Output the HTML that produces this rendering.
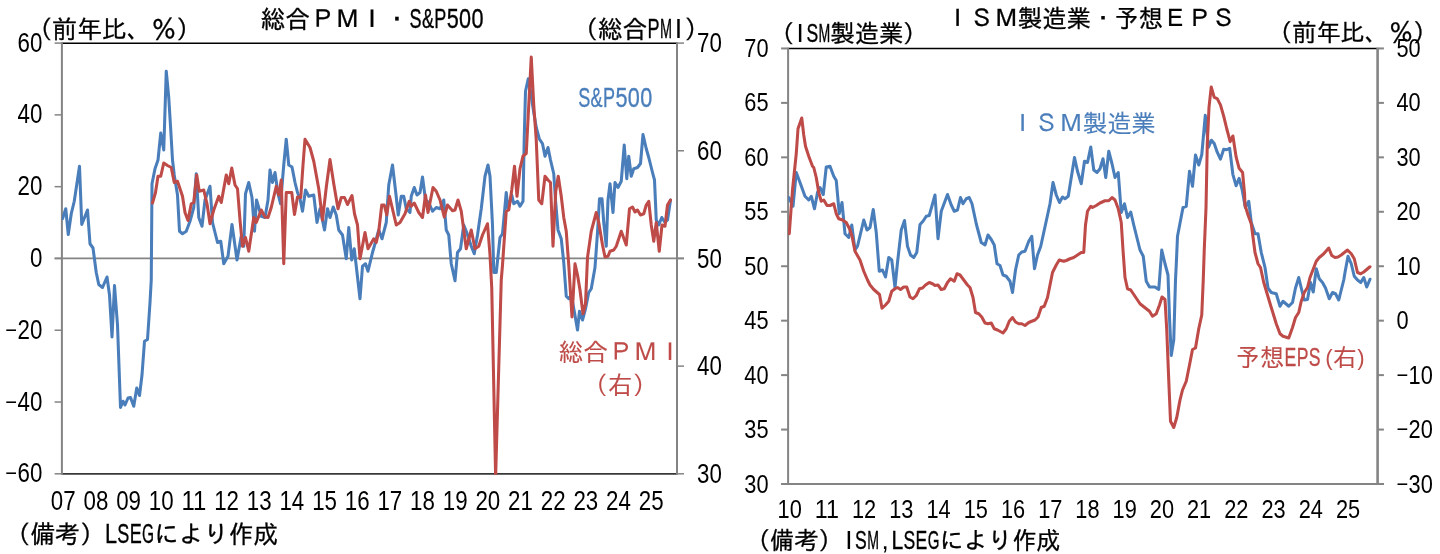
<!DOCTYPE html>
<html lang="ja"><head><meta charset="utf-8"><title>総合PMI・S&amp;P500 / ISM製造業・予想EPS</title>
<style>html,body{margin:0;padding:0;background:#fff}svg{display:block}text{font-family:"Liberation Sans","IPAGothic",sans-serif}</style></head><body>
<svg width="1440" height="554" viewBox="0 0 1440 554">
<rect width="1440" height="554" fill="#fff"/>
<defs><clipPath id="cl"><rect x="61.9" y="43.1" width="615.1" height="431.7"/></clipPath>
<clipPath id="cr"><rect x="788.1" y="48.45" width="589.4" height="435.55"/></clipPath></defs>
<line x1="61.90" y1="43.20" x2="677.00" y2="43.20" stroke="#000" stroke-width="1.6"/>
<line x1="61.90" y1="473.80" x2="677.00" y2="473.80" stroke="#383838" stroke-width="1.8"/>
<line x1="54.60" y1="258.40" x2="684.00" y2="258.40" stroke="#848484" stroke-width="1.9"/>
<line x1="61.90" y1="42.35" x2="61.90" y2="474.70" stroke="#848484" stroke-width="2.0"/>
<line x1="677.00" y1="42.35" x2="677.00" y2="474.70" stroke="#848484" stroke-width="2.0"/>
<line x1="54.60" y1="43.10" x2="61.90" y2="43.10" stroke="#848484" stroke-width="1.5"/>
<line x1="54.60" y1="114.88" x2="61.90" y2="114.88" stroke="#848484" stroke-width="1.5"/>
<line x1="54.60" y1="186.67" x2="61.90" y2="186.67" stroke="#848484" stroke-width="1.5"/>
<line x1="54.60" y1="258.45" x2="61.90" y2="258.45" stroke="#848484" stroke-width="1.5"/>
<line x1="54.60" y1="330.23" x2="61.90" y2="330.23" stroke="#848484" stroke-width="1.5"/>
<line x1="54.60" y1="402.02" x2="61.90" y2="402.02" stroke="#848484" stroke-width="1.5"/>
<line x1="54.60" y1="473.80" x2="61.90" y2="473.80" stroke="#848484" stroke-width="1.5"/>
<line x1="677.00" y1="43.10" x2="684.00" y2="43.10" stroke="#848484" stroke-width="1.5"/>
<line x1="677.00" y1="150.78" x2="684.00" y2="150.78" stroke="#848484" stroke-width="1.5"/>
<line x1="677.00" y1="258.45" x2="684.00" y2="258.45" stroke="#848484" stroke-width="1.5"/>
<line x1="677.00" y1="366.12" x2="684.00" y2="366.12" stroke="#848484" stroke-width="1.5"/>
<line x1="677.00" y1="473.80" x2="684.00" y2="473.80" stroke="#848484" stroke-width="1.5"/>
<line x1="788.10" y1="48.50" x2="1377.50" y2="48.50" stroke="#000" stroke-width="1.5"/>
<line x1="781.10" y1="484.00" x2="1383.90" y2="484.00" stroke="#848484" stroke-width="2.0"/>
<line x1="788.10" y1="47.70" x2="788.10" y2="485.00" stroke="#848484" stroke-width="2.0"/>
<line x1="1377.60" y1="47.70" x2="1377.60" y2="485.00" stroke="#848484" stroke-width="2.6"/>
<line x1="781.10" y1="48.45" x2="788.10" y2="48.45" stroke="#848484" stroke-width="2.0"/>
<line x1="1377.50" y1="48.45" x2="1383.90" y2="48.45" stroke="#848484" stroke-width="2.0"/>
<line x1="781.10" y1="102.89" x2="788.10" y2="102.89" stroke="#848484" stroke-width="2.0"/>
<line x1="1377.50" y1="102.89" x2="1383.90" y2="102.89" stroke="#848484" stroke-width="2.0"/>
<line x1="781.10" y1="157.34" x2="788.10" y2="157.34" stroke="#848484" stroke-width="2.0"/>
<line x1="1377.50" y1="157.34" x2="1383.90" y2="157.34" stroke="#848484" stroke-width="2.0"/>
<line x1="781.10" y1="211.78" x2="788.10" y2="211.78" stroke="#848484" stroke-width="2.0"/>
<line x1="1377.50" y1="211.78" x2="1383.90" y2="211.78" stroke="#848484" stroke-width="2.0"/>
<line x1="781.10" y1="266.23" x2="788.10" y2="266.23" stroke="#848484" stroke-width="2.0"/>
<line x1="1377.50" y1="266.23" x2="1383.90" y2="266.23" stroke="#848484" stroke-width="2.0"/>
<line x1="781.10" y1="320.67" x2="788.10" y2="320.67" stroke="#848484" stroke-width="2.0"/>
<line x1="1377.50" y1="320.67" x2="1383.90" y2="320.67" stroke="#848484" stroke-width="2.0"/>
<line x1="781.10" y1="375.11" x2="788.10" y2="375.11" stroke="#848484" stroke-width="2.0"/>
<line x1="1377.50" y1="375.11" x2="1383.90" y2="375.11" stroke="#848484" stroke-width="2.0"/>
<line x1="781.10" y1="429.56" x2="788.10" y2="429.56" stroke="#848484" stroke-width="2.0"/>
<line x1="1377.50" y1="429.56" x2="1383.90" y2="429.56" stroke="#848484" stroke-width="2.0"/>
<line x1="781.10" y1="484.00" x2="788.10" y2="484.00" stroke="#848484" stroke-width="2.0"/>
<line x1="1377.50" y1="484.00" x2="1383.90" y2="484.00" stroke="#848484" stroke-width="2.0"/>
<polyline points="62.50,218.75 65.75,208.75 68.25,234.50 71.25,213.75 74.25,201.25 79.50,166.25 81.75,224.50 87.50,210.00 90.00,243.75 93.00,248.00 96.25,272.50 98.75,284.50 102.50,287.50 107.00,277.00 109.50,295.00 112.00,337.00 114.50,285.50 117.50,325.00 120.50,407.50 123.00,401.25 125.00,405.00 128.00,398.00 130.50,397.50 133.75,406.25 136.75,388.00 139.50,395.50 142.00,375.00 144.50,341.25 147.50,339.50 150.00,302.50 151.25,280.00 152.00,183.75 155.00,168.75 158.00,160.00 160.75,133.00 163.75,150.00 166.25,71.25 168.75,97.50 170.75,130.00 172.50,160.00 174.25,175.00 177.50,195.00 179.50,231.25 182.50,233.75 186.25,231.25 190.00,221.25 193.75,207.50 196.25,173.75 198.75,217.50 202.00,226.25 205.00,200.00 210.00,186.25 212.50,222.50 217.50,242.50 220.75,241.25 223.75,263.75 228.00,256.25 232.00,224.50 237.00,260.00 241.25,236.25 243.75,246.25 245.50,193.75 248.75,182.50 252.00,197.50 254.50,231.25 256.50,200.00 261.25,216.25 265.00,217.50 268.00,200.00 270.00,170.00 272.50,182.50 275.00,172.50 278.00,193.75 280.50,203.75 283.75,165.00 286.25,139.25 288.75,165.00 292.00,167.00 295.00,182.50 297.50,192.50 300.00,198.75 302.50,211.25 305.50,190.00 308.75,196.25 313.75,195.00 317.00,222.50 320.00,208.75 324.50,230.00 327.50,208.75 330.00,217.50 333.25,207.00 336.25,215.00 338.75,230.00 342.50,235.00 346.25,258.75 348.75,227.50 351.75,260.00 354.25,248.75 360.00,298.75 362.50,266.25 365.50,263.75 368.00,271.25 372.50,252.50 375.00,243.75 378.75,230.00 382.00,238.75 386.25,222.50 388.75,185.00 392.50,165.00 395.75,192.50 398.25,215.00 401.25,196.25 403.75,196.25 406.25,208.75 410.00,212.50 411.25,196.25 414.25,187.50 417.00,195.00 420.00,192.50 422.50,177.00 425.50,200.00 428.75,202.50 432.50,211.25 436.25,207.50 440.00,208.75 443.75,200.00 446.25,230.00 448.75,235.00 451.25,263.75 455.00,280.75 457.50,252.50 460.50,248.75 463.75,225.00 466.75,232.50 471.25,246.25 474.25,253.75 477.50,235.00 481.25,208.75 485.00,176.25 488.00,165.00 490.00,176.25 492.50,225.00 493.75,272.50 496.25,272.50 500.00,237.50 502.50,233.75 506.25,192.50 508.00,208.75 511.75,195.00 513.75,203.75 517.50,201.25 520.00,206.25 523.00,201.25 524.25,137.50 525.50,91.25 528.25,78.75 530.75,92.50 533.75,112.50 536.25,127.50 539.25,138.75 542.50,143.75 545.00,156.25 548.00,147.50 550.50,160.00 553.75,173.75 555.50,200.00 558.00,230.00 561.25,238.75 563.75,262.50 566.25,296.25 568.75,298.75 571.25,295.00 574.50,312.50 577.50,330.00 579.50,311.25 582.50,320.00 585.50,308.75 588.75,292.50 591.25,288.75 595.00,267.50 597.50,232.50 599.50,198.75 602.00,198.75 603.75,222.50 606.25,246.25 608.00,200.00 610.00,183.75 613.00,212.50 615.00,182.50 618.00,187.50 621.25,181.25 624.25,145.00 626.75,178.75 628.75,156.25 631.25,176.25 633.75,168.75 637.50,167.50 640.50,163.50 643.00,134.50 646.25,148.75 648.75,157.50 652.50,172.50 654.50,180.00 656.25,220.00 658.75,225.00 661.75,217.50 665.00,222.50 667.50,220.00 670.50,200.00" fill="none" stroke="#4a7ebb" stroke-width="3.05" stroke-linejoin="round" stroke-linecap="round" clip-path="url(#cl)"/>
<polyline points="152.50,203.00 155.50,192.50 158.00,176.25 160.75,176.25 163.75,163.00 167.50,165.50 171.25,167.50 174.25,182.50 177.50,181.25 182.50,196.25 185.00,212.50 188.00,220.50 191.25,203.75 193.75,202.50 196.75,175.00 199.25,191.25 203.75,190.00 207.00,203.75 210.00,223.75 213.75,210.00 218.75,196.25 221.25,202.50 226.25,175.00 228.75,183.75 231.75,168.00 235.00,185.00 237.50,188.75 240.00,220.00 242.50,246.25 245.50,237.50 248.75,251.25 253.75,217.50 256.25,222.50 261.25,210.00 265.00,217.00 268.00,217.50 271.25,207.50 276.25,186.25 278.75,195.00 281.25,180.00 283.75,263.75 286.25,192.50 291.75,192.50 294.50,214.50 297.50,197.00 300.75,197.50 303.00,165.00 305.00,139.25 310.00,147.50 313.75,161.25 318.75,188.75 322.50,220.00 326.25,187.50 330.00,159.50 333.75,183.75 338.00,208.75 341.25,197.50 344.50,197.50 347.50,204.50 352.00,195.50 354.50,213.75 357.50,225.00 360.00,258.75 365.00,232.50 368.00,248.75 373.75,238.75 376.25,242.50 378.75,231.25 381.75,205.00 384.25,205.00 386.75,215.00 389.50,196.25 396.25,225.00 400.00,222.50 405.00,213.75 409.25,201.25 411.25,206.25 414.25,203.00 418.75,212.50 422.50,217.50 425.50,195.00 428.00,212.50 433.00,187.50 436.25,191.25 440.00,200.00 444.25,217.00 447.50,205.00 452.50,210.75 455.00,210.00 458.00,200.00 461.25,211.25 466.25,248.75 471.25,230.00 475.00,248.75 478.75,246.25 482.50,235.00 487.50,223.75 490.00,255.00 491.75,288.00 495.62,477.00 501.25,280.00 502.50,265.00 506.25,211.25 508.75,210.00 511.75,190.00 514.50,166.25 517.00,196.25 520.00,168.75 523.00,156.00 526.25,153.50 531.25,57.00 533.75,105.00 536.25,140.00 538.75,200.00 541.75,203.75 545.00,176.25 548.00,180.00 550.50,182.50 553.00,246.25 555.75,191.25 558.25,176.25 561.25,196.25 563.75,217.50 566.25,231.25 568.75,265.00 572.00,317.00 575.00,263.75 577.50,275.00 580.00,290.00 583.00,313.75 585.50,303.75 587.50,257.50 591.25,231.25 596.25,212.50 598.75,222.50 602.50,245.00 605.00,257.00 608.00,256.25 610.00,251.25 613.75,250.00 616.25,246.25 621.25,231.25 626.25,245.00 629.50,208.75 632.50,207.00 635.00,212.00 637.50,210.00 640.50,215.00 643.75,213.75 646.25,205.00 648.75,201.25 651.25,225.00 653.75,241.25 656.25,222.50 659.25,251.25 662.00,225.00 665.00,226.25 667.50,205.00 670.50,200.00" fill="none" stroke="#be4b48" stroke-width="3.05" stroke-linejoin="round" stroke-linecap="round" clip-path="url(#cl)"/>
<polyline points="788.75,197.50 793.00,206.25 796.25,172.50 800.00,182.50 805.00,196.25 808.75,200.00 811.25,196.25 814.50,208.75 817.50,192.50 820.00,187.50 823.25,194.50 826.25,167.00 830.00,166.25 833.75,176.25 836.25,180.50 839.25,213.75 842.00,202.50 845.00,233.75 848.75,237.50 851.75,225.00 855.00,250.00 857.50,246.25 863.75,220.00 867.00,230.00 870.00,227.50 873.25,209.50 876.25,232.50 879.25,271.25 882.50,270.00 885.50,277.00 888.75,257.50 891.75,260.00 895.00,287.50 897.50,262.50 901.25,230.00 904.50,220.50 907.50,246.25 910.50,255.00 913.75,257.50 916.75,252.50 920.00,224.50 923.00,221.25 926.25,216.25 929.25,215.50 935.00,195.00 938.00,238.75 941.25,211.25 947.50,194.50 951.25,205.00 954.25,211.25 957.50,210.00 960.50,197.50 963.00,203.75 966.25,198.75 969.25,197.50 972.00,203.75 976.25,223.75 981.25,242.50 985.00,245.00 988.00,235.00 991.25,239.50 994.25,245.00 997.00,263.75 1000.00,265.50 1003.00,275.00 1006.25,276.25 1010.00,281.25 1012.50,292.50 1015.50,270.00 1018.75,255.00 1021.75,252.00 1025.00,251.25 1028.75,241.25 1031.75,236.25 1034.50,268.75 1037.50,255.00 1040.75,246.25 1043.75,232.50 1050.00,203.75 1053.00,182.50 1056.25,195.00 1059.50,202.50 1062.50,197.00 1065.00,198.75 1068.25,196.25 1074.50,157.50 1077.50,171.25 1081.25,183.75 1084.50,161.25 1087.50,162.50 1090.75,147.00 1093.75,170.00 1097.00,172.50 1100.00,168.75 1103.00,158.75 1105.75,177.50 1108.75,151.25 1112.00,163.75 1115.00,177.50 1118.25,172.50 1121.25,212.50 1124.50,203.75 1127.50,217.50 1130.75,212.00 1133.75,225.00 1140.00,250.00 1143.25,256.25 1146.25,281.25 1149.50,287.00 1155.00,287.00 1158.75,289.50 1161.75,250.00 1165.00,263.75 1168.00,275.00 1169.50,317.50 1171.25,355.50 1173.75,340.00 1175.50,280.00 1176.25,265.00 1177.50,236.25 1183.00,207.50 1186.25,206.25 1189.50,171.25 1192.50,186.25 1195.50,155.00 1198.75,165.00 1201.78,154.65 1205.27,115.31 1208.51,147.18 1211.49,140.21 1214.23,143.44 1217.22,152.16 1220.46,159.13 1223.69,149.17 1226.68,149.67 1229.67,148.42 1232.90,174.56 1236.14,185.77 1239.13,178.30 1242.12,189.50 1245.35,207.43 1248.75,201.25 1251.25,222.50 1255.00,233.75 1258.00,233.75 1261.25,252.50 1265.00,267.50 1268.00,288.00 1271.25,292.50 1276.25,293.75 1280.00,306.25 1283.00,301.25 1288.75,306.25 1292.50,302.50 1295.50,288.00 1298.75,277.50 1301.25,288.00 1304.25,300.00 1307.50,299.50 1310.50,282.50 1313.25,292.00 1316.25,268.75 1319.25,278.75 1322.50,282.50 1325.50,288.00 1329.25,298.75 1332.50,292.50 1335.50,293.75 1338.75,300.00 1341.25,290.00 1343.75,280.00 1345.00,272.50 1348.00,256.25 1351.25,263.75 1354.25,276.25 1357.50,280.00 1360.75,282.50 1363.75,277.50 1366.75,287.00 1370.00,279.25" fill="none" stroke="#4a7ebb" stroke-width="3.05" stroke-linejoin="round" stroke-linecap="round" clip-path="url(#cr)"/>
<polyline points="789.25,233.75 792.50,190.00 796.25,153.75 798.00,128.75 801.75,118.00 803.75,135.00 805.50,146.25 808.75,156.25 812.50,166.25 813.75,167.50 816.25,177.50 818.75,192.50 821.25,201.25 823.75,200.00 827.00,205.50 830.00,205.50 833.75,203.75 836.25,213.75 838.75,218.75 842.50,220.00 846.25,222.50 849.50,228.75 852.00,236.25 855.00,251.25 860.00,260.00 863.75,271.25 867.50,280.00 870.00,285.00 873.75,289.50 879.50,294.50 882.00,308.25 885.50,305.00 888.75,301.25 891.75,291.25 895.00,288.75 897.50,287.50 900.50,289.50 903.75,287.00 906.75,287.00 910.00,297.00 913.00,298.75 916.25,295.50 919.50,288.75 922.50,288.00 925.50,285.00 929.25,282.50 932.50,283.75 935.00,285.50 938.00,285.00 941.25,289.50 944.25,288.75 947.50,282.50 950.50,278.75 954.25,281.25 957.00,273.75 960.00,275.00 963.75,280.00 967.50,285.00 970.00,287.50 973.00,297.50 975.50,312.50 978.75,313.75 981.75,317.00 985.00,323.00 988.00,323.75 991.25,323.00 994.25,328.75 997.50,330.00 1003.00,333.00 1006.25,328.75 1009.25,321.25 1012.50,317.50 1015.50,322.00 1018.75,323.75 1021.75,323.75 1025.00,325.50 1028.75,322.50 1031.75,321.25 1035.00,320.00 1038.00,317.00 1041.25,307.50 1044.25,306.25 1047.50,297.50 1050.00,285.00 1052.50,272.50 1056.25,265.00 1059.25,260.00 1063.75,261.25 1066.25,260.50 1070.00,258.75 1073.75,257.50 1077.50,255.00 1081.25,252.50 1083.75,252.50 1085.50,225.00 1087.50,211.25 1090.75,206.25 1092.50,207.50 1096.25,205.50 1100.00,203.00 1105.00,200.75 1108.75,200.75 1112.00,197.50 1115.00,200.00 1118.25,208.75 1121.25,222.50 1123.00,250.00 1125.00,277.50 1127.50,288.75 1130.75,290.00 1140.00,303.75 1146.25,308.75 1149.50,311.25 1152.50,316.25 1156.25,313.75 1159.50,305.00 1162.00,297.00 1165.00,299.50 1166.75,330.00 1168.75,380.00 1170.50,421.25 1173.75,427.50 1176.75,417.50 1180.00,400.00 1182.50,390.00 1186.25,381.25 1189.50,365.00 1192.50,349.50 1195.50,348.00 1198.75,328.75 1201.75,315.00 1203.25,280.00 1204.25,250.00 1206.02,207.43 1207.26,144.69 1209.00,107.34 1211.24,86.93 1214.23,97.39 1217.22,98.63 1220.46,104.85 1223.69,116.06 1226.68,128.51 1230.17,141.70 1232.90,135.98 1236.14,157.14 1239.13,168.34 1242.61,172.57 1244.61,194.48 1245.00,205.00 1248.00,215.00 1251.25,223.75 1255.00,252.50 1258.00,263.75 1260.50,267.50 1263.75,282.50 1267.50,295.00 1271.25,307.50 1276.25,323.75 1280.00,333.75 1283.00,336.25 1288.75,338.00 1292.50,327.50 1295.50,317.50 1298.75,312.50 1301.25,301.25 1304.25,292.50 1307.50,287.50 1310.00,277.50 1316.25,261.25 1319.25,257.50 1323.75,253.75 1328.75,248.00 1331.75,255.50 1335.00,257.50 1338.00,257.00 1341.25,255.00 1347.50,250.00 1351.25,253.75 1354.25,258.75 1357.50,272.50 1360.75,273.75 1363.75,272.00 1370.00,266.75" fill="none" stroke="#be4b48" stroke-width="3.05" stroke-linejoin="round" stroke-linecap="round" clip-path="url(#cr)"/>
<text font-size="24.8" fill="#000"><tspan x="17.50" y="51.70" font-size="26.78" textLength="24.80" lengthAdjust="spacingAndGlyphs">60</tspan></text>
<text font-size="24.8" fill="#000"><tspan x="17.50" y="123.48" font-size="26.78" textLength="24.80" lengthAdjust="spacingAndGlyphs">40</tspan></text>
<text font-size="24.8" fill="#000"><tspan x="17.50" y="195.27" font-size="26.78" textLength="24.80" lengthAdjust="spacingAndGlyphs">20</tspan></text>
<text font-size="24.8" fill="#000"><tspan x="29.90" y="267.05" font-size="26.78" textLength="12.40" lengthAdjust="spacingAndGlyphs">0</tspan></text>
<text font-size="24.8" fill="#000"><tspan x="4.40" y="335.83" font-size="20" textLength="13.3" lengthAdjust="spacingAndGlyphs">-</tspan><tspan x="17.50" y="338.83" font-size="26.78" textLength="24.80" lengthAdjust="spacingAndGlyphs">20</tspan></text>
<text font-size="24.8" fill="#000"><tspan x="4.40" y="407.62" font-size="20" textLength="13.3" lengthAdjust="spacingAndGlyphs">-</tspan><tspan x="17.50" y="410.62" font-size="26.78" textLength="24.80" lengthAdjust="spacingAndGlyphs">40</tspan></text>
<text font-size="24.8" fill="#000"><tspan x="4.40" y="479.40" font-size="20" textLength="13.3" lengthAdjust="spacingAndGlyphs">-</tspan><tspan x="17.50" y="482.40" font-size="26.78" textLength="24.80" lengthAdjust="spacingAndGlyphs">60</tspan></text>
<text font-size="24.8" fill="#000"><tspan x="697.10" y="52.30" font-size="26.78" textLength="24.80" lengthAdjust="spacingAndGlyphs">70</tspan></text>
<text font-size="24.8" fill="#000"><tspan x="697.10" y="159.97" font-size="26.78" textLength="24.80" lengthAdjust="spacingAndGlyphs">60</tspan></text>
<text font-size="24.8" fill="#000"><tspan x="697.10" y="267.65" font-size="26.78" textLength="24.80" lengthAdjust="spacingAndGlyphs">50</tspan></text>
<text font-size="24.8" fill="#000"><tspan x="697.10" y="375.32" font-size="26.78" textLength="24.80" lengthAdjust="spacingAndGlyphs">40</tspan></text>
<text font-size="24.8" fill="#000"><tspan x="697.10" y="483.00" font-size="26.78" textLength="24.80" lengthAdjust="spacingAndGlyphs">30</tspan></text>
<text font-size="24.8" fill="#000"><tspan x="50.86" y="509.60" font-size="26.78" textLength="24.80" lengthAdjust="spacingAndGlyphs">07</tspan></text>
<text font-size="24.8" fill="#000"><tspan x="83.52" y="509.60" font-size="26.78" textLength="24.80" lengthAdjust="spacingAndGlyphs">08</tspan></text>
<text font-size="24.8" fill="#000"><tspan x="116.18" y="509.60" font-size="26.78" textLength="24.80" lengthAdjust="spacingAndGlyphs">09</tspan></text>
<text font-size="24.8" fill="#000"><tspan x="148.84" y="509.60" font-size="26.78" textLength="24.80" lengthAdjust="spacingAndGlyphs">10</tspan></text>
<text font-size="24.8" fill="#000"><tspan x="181.50" y="509.60" font-size="26.78" textLength="24.80" lengthAdjust="spacingAndGlyphs">11</tspan></text>
<text font-size="24.8" fill="#000"><tspan x="214.16" y="509.60" font-size="26.78" textLength="24.80" lengthAdjust="spacingAndGlyphs">12</tspan></text>
<text font-size="24.8" fill="#000"><tspan x="246.82" y="509.60" font-size="26.78" textLength="24.80" lengthAdjust="spacingAndGlyphs">13</tspan></text>
<text font-size="24.8" fill="#000"><tspan x="279.48" y="509.60" font-size="26.78" textLength="24.80" lengthAdjust="spacingAndGlyphs">14</tspan></text>
<text font-size="24.8" fill="#000"><tspan x="312.14" y="509.60" font-size="26.78" textLength="24.80" lengthAdjust="spacingAndGlyphs">15</tspan></text>
<text font-size="24.8" fill="#000"><tspan x="344.80" y="509.60" font-size="26.78" textLength="24.80" lengthAdjust="spacingAndGlyphs">16</tspan></text>
<text font-size="24.8" fill="#000"><tspan x="377.46" y="509.60" font-size="26.78" textLength="24.80" lengthAdjust="spacingAndGlyphs">17</tspan></text>
<text font-size="24.8" fill="#000"><tspan x="410.12" y="509.60" font-size="26.78" textLength="24.80" lengthAdjust="spacingAndGlyphs">18</tspan></text>
<text font-size="24.8" fill="#000"><tspan x="442.78" y="509.60" font-size="26.78" textLength="24.80" lengthAdjust="spacingAndGlyphs">19</tspan></text>
<text font-size="24.8" fill="#000"><tspan x="475.44" y="509.60" font-size="26.78" textLength="24.80" lengthAdjust="spacingAndGlyphs">20</tspan></text>
<text font-size="24.8" fill="#000"><tspan x="508.10" y="509.60" font-size="26.78" textLength="24.80" lengthAdjust="spacingAndGlyphs">21</tspan></text>
<text font-size="24.8" fill="#000"><tspan x="540.76" y="509.60" font-size="26.78" textLength="24.80" lengthAdjust="spacingAndGlyphs">22</tspan></text>
<text font-size="24.8" fill="#000"><tspan x="573.42" y="509.60" font-size="26.78" textLength="24.80" lengthAdjust="spacingAndGlyphs">23</tspan></text>
<text font-size="24.8" fill="#000"><tspan x="606.08" y="509.60" font-size="26.78" textLength="24.80" lengthAdjust="spacingAndGlyphs">24</tspan></text>
<text font-size="24.8" fill="#000"><tspan x="638.74" y="509.60" font-size="26.78" textLength="24.80" lengthAdjust="spacingAndGlyphs">25</tspan></text>
<text font-size="24.2" fill="#000"><tspan x="744.30" y="57.05" font-size="26.14" textLength="24.20" lengthAdjust="spacingAndGlyphs">70</tspan></text>
<text font-size="24.2" fill="#000"><tspan x="744.30" y="111.49" font-size="26.14" textLength="24.20" lengthAdjust="spacingAndGlyphs">65</tspan></text>
<text font-size="24.2" fill="#000"><tspan x="744.30" y="165.94" font-size="26.14" textLength="24.20" lengthAdjust="spacingAndGlyphs">60</tspan></text>
<text font-size="24.2" fill="#000"><tspan x="744.30" y="220.38" font-size="26.14" textLength="24.20" lengthAdjust="spacingAndGlyphs">55</tspan></text>
<text font-size="24.2" fill="#000"><tspan x="744.30" y="274.83" font-size="26.14" textLength="24.20" lengthAdjust="spacingAndGlyphs">50</tspan></text>
<text font-size="24.2" fill="#000"><tspan x="744.30" y="329.27" font-size="26.14" textLength="24.20" lengthAdjust="spacingAndGlyphs">45</tspan></text>
<text font-size="24.2" fill="#000"><tspan x="744.30" y="383.71" font-size="26.14" textLength="24.20" lengthAdjust="spacingAndGlyphs">40</tspan></text>
<text font-size="24.2" fill="#000"><tspan x="744.30" y="438.16" font-size="26.14" textLength="24.20" lengthAdjust="spacingAndGlyphs">35</tspan></text>
<text font-size="24.2" fill="#000"><tspan x="744.30" y="492.60" font-size="26.14" textLength="24.20" lengthAdjust="spacingAndGlyphs">30</tspan></text>
<text font-size="24.2" fill="#000"><tspan x="1396.50" y="57.05" font-size="26.14" textLength="24.20" lengthAdjust="spacingAndGlyphs">50</tspan></text>
<text font-size="24.2" fill="#000"><tspan x="1396.50" y="111.49" font-size="26.14" textLength="24.20" lengthAdjust="spacingAndGlyphs">40</tspan></text>
<text font-size="24.2" fill="#000"><tspan x="1396.50" y="165.94" font-size="26.14" textLength="24.20" lengthAdjust="spacingAndGlyphs">30</tspan></text>
<text font-size="24.2" fill="#000"><tspan x="1396.50" y="220.38" font-size="26.14" textLength="24.20" lengthAdjust="spacingAndGlyphs">20</tspan></text>
<text font-size="24.2" fill="#000"><tspan x="1396.50" y="274.83" font-size="26.14" textLength="24.20" lengthAdjust="spacingAndGlyphs">10</tspan></text>
<text font-size="24.2" fill="#000"><tspan x="1396.50" y="329.27" font-size="26.14" textLength="12.10" lengthAdjust="spacingAndGlyphs">0</tspan></text>
<text font-size="24.2" fill="#000"><tspan x="1395.80" y="380.71" font-size="20" textLength="13.3" lengthAdjust="spacingAndGlyphs">-</tspan><tspan x="1408.60" y="383.71" font-size="26.14" textLength="24.20" lengthAdjust="spacingAndGlyphs">10</tspan></text>
<text font-size="24.2" fill="#000"><tspan x="1395.80" y="435.16" font-size="20" textLength="13.3" lengthAdjust="spacingAndGlyphs">-</tspan><tspan x="1408.60" y="438.16" font-size="26.14" textLength="24.20" lengthAdjust="spacingAndGlyphs">20</tspan></text>
<text font-size="24.2" fill="#000"><tspan x="1395.80" y="489.60" font-size="20" textLength="13.3" lengthAdjust="spacingAndGlyphs">-</tspan><tspan x="1408.60" y="492.60" font-size="26.14" textLength="24.20" lengthAdjust="spacingAndGlyphs">30</tspan></text>
<text font-size="24.2" fill="#000"><tspan x="777.55" y="518.30" font-size="26.14" textLength="24.20" lengthAdjust="spacingAndGlyphs">10</tspan></text>
<text font-size="24.2" fill="#000"><tspan x="814.78" y="518.30" font-size="26.14" textLength="24.20" lengthAdjust="spacingAndGlyphs">11</tspan></text>
<text font-size="24.2" fill="#000"><tspan x="852.00" y="518.30" font-size="26.14" textLength="24.20" lengthAdjust="spacingAndGlyphs">12</tspan></text>
<text font-size="24.2" fill="#000"><tspan x="889.23" y="518.30" font-size="26.14" textLength="24.20" lengthAdjust="spacingAndGlyphs">13</tspan></text>
<text font-size="24.2" fill="#000"><tspan x="926.45" y="518.30" font-size="26.14" textLength="24.20" lengthAdjust="spacingAndGlyphs">14</tspan></text>
<text font-size="24.2" fill="#000"><tspan x="963.68" y="518.30" font-size="26.14" textLength="24.20" lengthAdjust="spacingAndGlyphs">15</tspan></text>
<text font-size="24.2" fill="#000"><tspan x="1000.90" y="518.30" font-size="26.14" textLength="24.20" lengthAdjust="spacingAndGlyphs">16</tspan></text>
<text font-size="24.2" fill="#000"><tspan x="1038.13" y="518.30" font-size="26.14" textLength="24.20" lengthAdjust="spacingAndGlyphs">17</tspan></text>
<text font-size="24.2" fill="#000"><tspan x="1075.35" y="518.30" font-size="26.14" textLength="24.20" lengthAdjust="spacingAndGlyphs">18</tspan></text>
<text font-size="24.2" fill="#000"><tspan x="1112.58" y="518.30" font-size="26.14" textLength="24.20" lengthAdjust="spacingAndGlyphs">19</tspan></text>
<text font-size="24.2" fill="#000"><tspan x="1149.80" y="518.30" font-size="26.14" textLength="24.20" lengthAdjust="spacingAndGlyphs">20</tspan></text>
<text font-size="24.2" fill="#000"><tspan x="1187.03" y="518.30" font-size="26.14" textLength="24.20" lengthAdjust="spacingAndGlyphs">21</tspan></text>
<text font-size="24.2" fill="#000"><tspan x="1224.25" y="518.30" font-size="26.14" textLength="24.20" lengthAdjust="spacingAndGlyphs">22</tspan></text>
<text font-size="24.2" fill="#000"><tspan x="1261.48" y="518.30" font-size="26.14" textLength="24.20" lengthAdjust="spacingAndGlyphs">23</tspan></text>
<text font-size="24.2" fill="#000"><tspan x="1298.70" y="518.30" font-size="26.14" textLength="24.20" lengthAdjust="spacingAndGlyphs">24</tspan></text>
<text font-size="24.2" fill="#000"><tspan x="1335.93" y="518.30" font-size="26.14" textLength="24.20" lengthAdjust="spacingAndGlyphs">25</tspan></text>
<text font-size="24.8" fill="#000"><tspan x="260.50" y="28" stroke="#000" stroke-width="0.3">総合ＰＭＩ・</tspan><tspan x="409.49" y="28" font-size="26.78" textLength="12.03" lengthAdjust="spacingAndGlyphs" stroke="#000" stroke-width="0.35">S</tspan><tspan x="421.89" y="28" font-size="26.78" textLength="12.03" lengthAdjust="spacingAndGlyphs" stroke="#000" stroke-width="0.35">&amp;</tspan><tspan x="434.29" y="28" font-size="26.78" textLength="12.03" lengthAdjust="spacingAndGlyphs" stroke="#000" stroke-width="0.35">P</tspan><tspan x="446.69" y="28" font-size="26.78" textLength="12.03" lengthAdjust="spacingAndGlyphs" stroke="#000" stroke-width="0.35">5</tspan><tspan x="459.09" y="28" font-size="26.78" textLength="12.03" lengthAdjust="spacingAndGlyphs" stroke="#000" stroke-width="0.35">0</tspan><tspan x="471.49" y="28" font-size="26.78" textLength="12.03" lengthAdjust="spacingAndGlyphs" stroke="#000" stroke-width="0.35">0</tspan></text>
<text font-size="24.8" fill="#000"><tspan x="27.50" y="38" stroke="#000" stroke-width="0.3">（前年比、％）</tspan></text>
<text font-size="24.8" fill="#000"><tspan x="573.00" y="38" stroke="#000" stroke-width="0.3">（総合</tspan><tspan x="647.59" y="38" font-size="26.78" textLength="12.03" lengthAdjust="spacingAndGlyphs" stroke="#000" stroke-width="0.35">P</tspan><tspan x="659.99" y="38" font-size="26.78" textLength="12.03" lengthAdjust="spacingAndGlyphs" stroke="#000" stroke-width="0.35">M</tspan><tspan x="674.68" y="38" font-size="26.78">I</tspan><tspan x="684.60" y="38" stroke="#000" stroke-width="0.3">）</tspan></text>
<text font-size="24.8" fill="#000"><tspan x="5.50" y="543" stroke="#000" stroke-width="0.3">（備考）</tspan><tspan x="104.89" y="543" font-size="26.78" textLength="12.03" lengthAdjust="spacingAndGlyphs" stroke="#000" stroke-width="0.35">L</tspan><tspan x="117.29" y="543" font-size="26.78" textLength="12.03" lengthAdjust="spacingAndGlyphs" stroke="#000" stroke-width="0.35">S</tspan><tspan x="129.69" y="543" font-size="26.78" textLength="12.03" lengthAdjust="spacingAndGlyphs" stroke="#000" stroke-width="0.35">E</tspan><tspan x="142.09" y="543" font-size="26.78" textLength="12.03" lengthAdjust="spacingAndGlyphs" stroke="#000" stroke-width="0.35">G</tspan><tspan x="154.30" y="543" stroke="#000" stroke-width="0.3">により作成</tspan></text>
<text font-size="24.2" fill="#000"><tspan x="945.50" y="26.5" stroke="#000" stroke-width="0.3">ＩＳＭ製造業・予想ＥＰＳ</tspan></text>
<text font-size="24.2" fill="#000"><tspan x="770.00" y="42" stroke="#000" stroke-width="0.3">（</tspan><tspan x="796.62" y="42" font-size="26.14">I</tspan><tspan x="806.48" y="42" font-size="26.14" textLength="11.74" lengthAdjust="spacingAndGlyphs" stroke="#000" stroke-width="0.35">S</tspan><tspan x="818.58" y="42" font-size="26.14" textLength="11.74" lengthAdjust="spacingAndGlyphs" stroke="#000" stroke-width="0.35">M</tspan><tspan x="830.50" y="42" stroke="#000" stroke-width="0.3">製造業）</tspan></text>
<text font-size="24.2" fill="#000"><tspan x="1268.00" y="40.5" stroke="#000" stroke-width="0.3">（前年比、％）</tspan></text>
<text font-size="24.2" fill="#000"><tspan x="746.00" y="549" stroke="#000" stroke-width="0.3">（備考）</tspan><tspan x="845.22" y="549" font-size="26.14">I</tspan><tspan x="855.08" y="549" font-size="26.14" textLength="11.74" lengthAdjust="spacingAndGlyphs" stroke="#000" stroke-width="0.35">S</tspan><tspan x="867.18" y="549" font-size="26.14" textLength="11.74" lengthAdjust="spacingAndGlyphs" stroke="#000" stroke-width="0.35">M</tspan><tspan x="881.52" y="549" font-size="26.14">,</tspan><tspan x="891.38" y="549" font-size="26.14" textLength="11.74" lengthAdjust="spacingAndGlyphs" stroke="#000" stroke-width="0.35">L</tspan><tspan x="903.48" y="549" font-size="26.14" textLength="11.74" lengthAdjust="spacingAndGlyphs" stroke="#000" stroke-width="0.35">S</tspan><tspan x="915.58" y="549" font-size="26.14" textLength="11.74" lengthAdjust="spacingAndGlyphs" stroke="#000" stroke-width="0.35">E</tspan><tspan x="927.68" y="549" font-size="26.14" textLength="11.74" lengthAdjust="spacingAndGlyphs" stroke="#000" stroke-width="0.35">G</tspan><tspan x="939.60" y="549" stroke="#000" stroke-width="0.3">により作成</tspan></text>
<text font-size="24.8" fill="#4a7ebb"><tspan x="578.19" y="107" font-size="26.78" textLength="12.03" lengthAdjust="spacingAndGlyphs" stroke="#4a7ebb" stroke-width="0.35">S</tspan><tspan x="590.59" y="107" font-size="26.78" textLength="12.03" lengthAdjust="spacingAndGlyphs" stroke="#4a7ebb" stroke-width="0.35">&amp;</tspan><tspan x="602.99" y="107" font-size="26.78" textLength="12.03" lengthAdjust="spacingAndGlyphs" stroke="#4a7ebb" stroke-width="0.35">P</tspan><tspan x="615.39" y="107" font-size="26.78" textLength="12.03" lengthAdjust="spacingAndGlyphs" stroke="#4a7ebb" stroke-width="0.35">5</tspan><tspan x="627.79" y="107" font-size="26.78" textLength="12.03" lengthAdjust="spacingAndGlyphs" stroke="#4a7ebb" stroke-width="0.35">0</tspan><tspan x="640.19" y="107" font-size="26.78" textLength="12.03" lengthAdjust="spacingAndGlyphs" stroke="#4a7ebb" stroke-width="0.35">0</tspan></text>
<text font-size="24.8" fill="#be4b48"><tspan x="558.50" y="361" stroke="#be4b48" stroke-width="0.12">総合ＰＭＩ</tspan></text>
<text font-size="24.8" fill="#be4b48"><tspan x="583.00" y="393.5" stroke="#be4b48" stroke-width="0.12">（右）</tspan></text>
<text font-size="24.2" fill="#4a7ebb"><tspan x="1010.40" y="131.5" stroke="#4a7ebb" stroke-width="0.12">ＩＳＭ製造業</tspan></text>
<text font-size="24.2" fill="#be4b48"><tspan x="1236.00" y="366" stroke="#be4b48" stroke-width="0.12">予想</tspan><tspan x="1284.58" y="366" font-size="26.14" textLength="11.74" lengthAdjust="spacingAndGlyphs" stroke="#be4b48" stroke-width="0.35">E</tspan><tspan x="1296.68" y="366" font-size="26.14" textLength="11.74" lengthAdjust="spacingAndGlyphs" stroke="#be4b48" stroke-width="0.35">P</tspan><tspan x="1308.78" y="366" font-size="26.14" textLength="11.74" lengthAdjust="spacingAndGlyphs" stroke="#be4b48" stroke-width="0.35">S</tspan><tspan x="1328.95" y="364.8" font-size="22.26" text-anchor="middle">(</tspan><tspan x="1332.80" y="366" stroke="#be4b48" stroke-width="0.12">右</tspan><tspan x="1360.85" y="364.8" font-size="22.26" text-anchor="middle">)</tspan></text>
</svg></body></html>
